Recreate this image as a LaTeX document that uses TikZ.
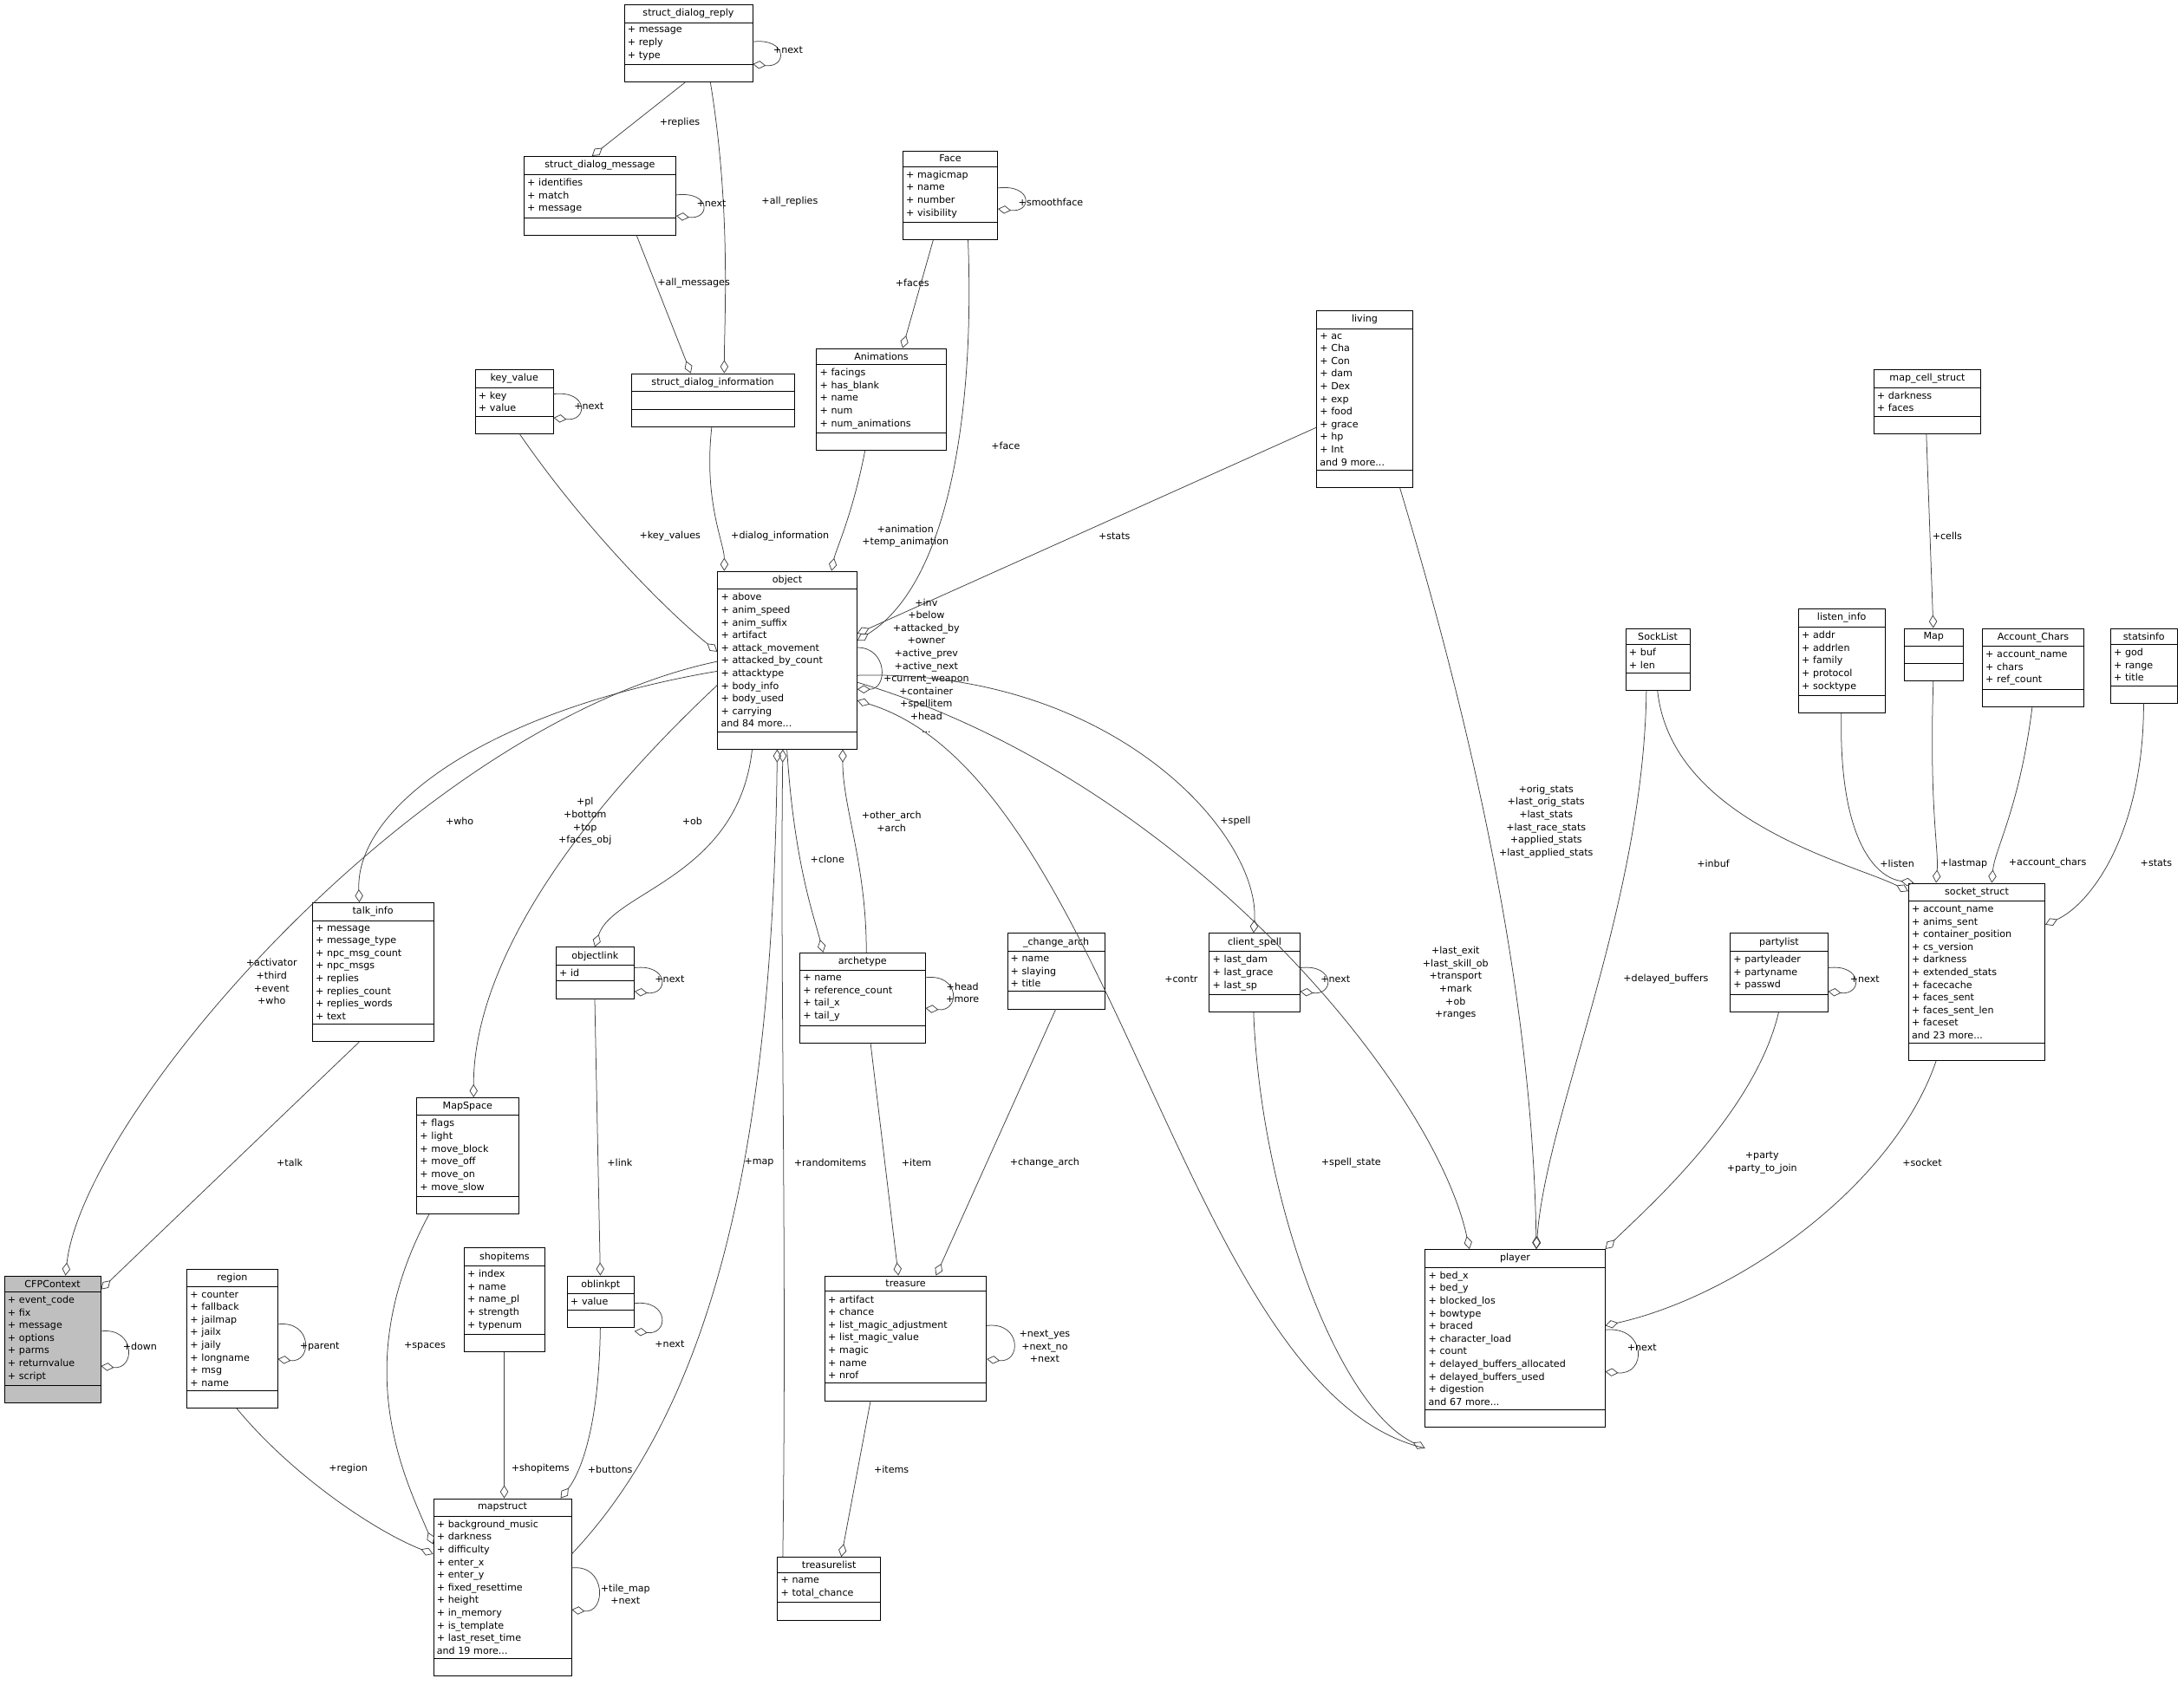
\documentclass[tikz,border=0pt]{standalone}
\usepackage{fontspec}
\setmainfont{DejaVu Sans}
\usetikzlibrary{arrows.meta}
\usetikzlibrary{shapes.multipart}
\definecolor{edgegray}{HTML}{404040}
\newcommand\cfont{\fontsize{5.9}{7.76}\selectfont}
\tikzset{cls/.style={rectangle split,rectangle split parts=3,draw=black,fill=white,anchor=north west,inner xsep=2pt,inner ysep=2.4pt,font=\cfont}}
\tikzset{agg/.style={draw=edgegray,line width=0.4pt,-{Diamond[open,length=8pt,width=5pt]}}}
\tikzset{lbl/.style={font=\cfont,align=center,inner sep=0pt,text=black}}
% class box: name, x, y, width, title, members, extra style
\newcommand\cls[7]{%
 \pgfmathsetmacro\clsw{#4*0.03*28.4527-4}%
 \node[cls,text width=\clsw pt,#7] (#1) at (#2,#3) {\centering #5\par\nodepart{two}\raggedright #6\par\nodepart{three}\vphantom{Ag}};}

\begin{document}
\begin{tikzpicture}[x=0.03cm,y=-0.03cm]
\useasboundingbox (0,0) rectangle (1568,1219);

\cls{reply}{448}{3}{92}{struct\_dialog\_reply}{+ message\\+ reply\\+ type}{}
\cls{dmsg}{376}{112}{109}{struct\_dialog\_message}{+ identifies\\+ match\\+ message}{}
\cls{face}{648}{108}{68}{Face}{+ magicmap\\+ name\\+ number\\+ visibility}{}
\cls{dinfo}{453}{268}{117}{struct\_dialog\_information}{\vphantom{Ag}}{}
\cls{keyval}{341}{265}{56}{key\_value}{+ key\\+ value}{}
\cls{anim}{586}{250}{93}{Animations}{+ facings\\+ has\_blank\\+ name\\+ num\\+ num\_animations}{}
\cls{living}{945}{223}{69}{living}{+ ac\\+ Cha\\+ Con\\+ dam\\+ Dex\\+ exp\\+ food\\+ grace\\+ hp\\+ Int\\and 9 more...}{}
\cls{mapcell}{1345}{265}{77}{map\_cell\_struct}{+ darkness\\+ faces}{}
\cls{object}{515}{410}{100}{object}{+ above\\+ anim\_speed\\+ anim\_suffix\\+ artifact\\+ attack\_movement\\+ attacked\_by\_count\\+ attacktype\\+ body\_info\\+ body\_used\\+ carrying\\and 84 more...}{}
\cls{socklist}{1167}{451}{46}{SockList}{+ buf\\+ len}{}
\cls{listen}{1291}{437}{62}{listen\_info}{+ addr\\+ addrlen\\+ family\\+ protocol\\+ socktype}{}
\cls{map}{1367}{451}{42}{Map}{\vphantom{Ag}}{}
\cls{acct}{1423}{451}{73}{Account\_Chars}{+ account\_name\\+ chars\\+ ref\_count}{}
\cls{statsinfo}{1515}{451}{48}{statsinfo}{+ god\\+ range\\+ title}{}
\cls{talk}{224}{648}{87}{talk\_info}{+ message\\+ message\_type\\+ npc\_msg\_count\\+ npc\_msgs\\+ replies\\+ replies\_count\\+ replies\_words\\+ text}{}
\cls{objlink}{399}{680}{56}{objectlink}{+ id}{}
\cls{arch}{574}{684}{90}{archetype}{+ name\\+ reference\_count\\+ tail\_x\\+ tail\_y}{}
\cls{chg}{723}{670}{70}{\_change\_arch}{+ name\\+ slaying\\+ title}{}
\cls{cspell}{868}{670}{65}{client\_spell}{+ last\_dam\\+ last\_grace\\+ last\_sp}{}
\cls{party}{1242}{670}{70}{partylist}{+ partyleader\\+ partyname\\+ passwd}{}
\cls{sock}{1370}{634}{98}{socket\_struct}{+ account\_name\\+ anims\_sent\\+ container\_position\\+ cs\_version\\+ darkness\\+ extended\_stats\\+ facecache\\+ faces\_sent\\+ faces\_sent\_len\\+ faceset\\and 23 more...}{}
\cls{mapspace}{299}{788}{73}{MapSpace}{+ flags\\+ light\\+ move\_block\\+ move\_off\\+ move\_on\\+ move\_slow}{}
\cls{cfp}{3}{916}{69}{CFPContext}{+ event\_code\\+ fix\\+ message\\+ options\\+ parms\\+ returnvalue\\+ script}{fill=black!25}
\cls{region}{134}{911}{65}{region}{+ counter\\+ fallback\\+ jailmap\\+ jailx\\+ jaily\\+ longname\\+ msg\\+ name}{}
\cls{shop}{333}{896}{58}{shopitems}{+ index\\+ name\\+ name\_pl\\+ strength\\+ typenum}{}
\cls{oblink}{407}{916}{48}{oblinkpt}{+ value}{}
\cls{treasure}{592}{916}{116}{treasure}{+ artifact\\+ chance\\+ list\_magic\_adjustment\\+ list\_magic\_value\\+ magic\\+ name\\+ nrof}{}
\cls{player}{1023}{897}{129}{player}{+ bed\_x\\+ bed\_y\\+ blocked\_los\\+ bowtype\\+ braced\\+ character\_load\\+ count\\+ delayed\_buffers\_allocated\\+ delayed\_buffers\_used\\+ digestion\\and 67 more...}{}
\cls{mapstruct}{311}{1076}{99}{mapstruct}{+ background\_music\\+ darkness\\+ difficulty\\+ enter\_x\\+ enter\_y\\+ fixed\_resettime\\+ height\\+ in\_memory\\+ is\_template\\+ last\_reset\_time\\and 19 more...}{}
\cls{tlist}{558}{1118}{74}{treasurelist}{+ name\\+ total\_chance}{}

% dialog structures
\draw[agg] ([shift={(0,27)}]reply.north east) .. controls +(25,-3) and +(25,3) .. ([shift={(0,43)}]reply.north east) node[lbl,anchor=west] at (555,36) {+next};
\draw[agg] ([shift={(44,0)}]reply.south west) -- ([shift={(49,0)}]dmsg.north west) node[lbl] at (488,88) {+replies};
\draw[agg] ([shift={(62,0)}]reply.south west) .. controls (525,150) and (520,230) .. ([shift={(67,0)}]dinfo.north west) node[lbl] at (567,145) {+all\_replies};
\draw[agg] ([shift={(81,0)}]dmsg.south west) -- ([shift={(43,0)}]dinfo.north west) node[lbl] at (498,203) {+all\_messages};
\draw[agg] ([shift={(0,28)}]dmsg.north east) .. controls +(25,-3) and +(25,3) .. ([shift={(0,43)}]dmsg.north east) node[lbl,anchor=west] at (500,146) {+next};
\draw[agg] ([shift={(0,27)}]face.north east) .. controls +(25,-3) and +(25,3) .. ([shift={(0,42)}]face.north east) node[lbl,anchor=west] at (731,145) {+smoothface};
\draw[agg] ([shift={(22,0)}]face.south west) -- ([shift={(62,0)}]anim.north west) node[lbl] at (655,203) {+faces};
\draw[agg] ([shift={(47,0)}]face.south west) .. controls (700,300) and (680,420) .. ([shift={(0,50)}]object.north east) node[lbl] at (722,320) {+face};
\draw[agg] ([shift={(0,18)}]keyval.north east) .. controls +(25,-3) and +(25,3) .. ([shift={(0,35)}]keyval.north east) node[lbl,anchor=west] at (412,292) {+next};
\draw[agg] ([shift={(32,0)}]keyval.south west) .. controls (420,380) and (480,440) .. ([shift={(0,58)}]object.north west) node[lbl] at (481,385) {+key\_values};
\draw[agg] ([shift={(58,0)}]dinfo.south west) .. controls (505,360) and (520,390) .. ([shift={(5,0)}]object.north west) node[lbl] at (560,385) {+dialog\_information};
\draw[agg] ([shift={(35,0)}]anim.south west) .. controls (612,370) and (600,395) .. ([shift={(82,0)}]object.north west) node[lbl] at (650,385) {+animation\\+temp\_animation};
\draw[agg] ([shift={(0,84)}]living.north west) -- ([shift={(0,45)}]object.north east) node[lbl] at (800,385) {+stats};
\draw[agg] ([shift={(0,55)}]object.north east) .. controls +(22,0) and +(22,0) .. ([shift={(0,85)}]object.north east) node[lbl] at (665,478) {+inv\\+below\\+attacked\_by\\+owner\\+active\_prev\\+active\_next\\+current\_weapon\\+container\\+spellitem\\+head\\...};
\draw[agg] ([shift={(60,0)}]living.south west) .. controls (1050,500) and (1100,700) .. ([shift={(80,0)}]player.north west) node[lbl] at (1110,590) {+orig\_stats\\+last\_orig\_stats\\+last\_stats\\+last\_race\_stats\\+applied\_stats\\+last\_applied\_stats};
\draw[agg] ([shift={(38,0)}]mapcell.south west) -- ([shift={(21,0)}]map.north west) node[lbl] at (1398,385) {+cells};
% object and player
\draw[agg] ([shift={(0,80)}]object.north east) .. controls (850,560) and (1030,780) .. ([shift={(32,0)}]player.north west) node[lbl] at (1045,706) {+last\_exit\\+last\_skill\_ob\\+transport\\+mark\\+ob\\+ranges};
\draw[agg] ([shift={(0,143)}]player.north west) .. controls (850,1000) and (800,560) .. ([shift={(0,93)}]object.north east) node[lbl] at (848,703) {+contr};
\draw[agg] ([shift={(0,75)}]object.north east) .. controls (800,480) and (905,600) .. ([shift={(32,0)}]cspell.north west) node[lbl] at (887,590) {+spell};
\draw[agg] ([shift={(0,25)}]cspell.north east) .. controls +(25,-3) and +(25,3) .. ([shift={(0,42)}]cspell.north east) node[lbl,anchor=west] at (948,703) {+next};
\draw[agg] ([shift={(32,0)}]cspell.south west) .. controls (905,860) and (960,1010) .. ([shift={(0,143)}]player.north west) node[lbl] at (970,835) {+spell\_state};
\draw[agg] ([shift={(23,0)}]socklist.south west) .. controls (1200,590) and (1330,620) .. ([shift={(0,6)}]sock.north west) node[lbl] at (1230,620) {+inbuf};
\draw[agg] ([shift={(15,0)}]socklist.south west) .. controls (1180,650) and (1110,800) .. ([shift={(80,0)}]player.north west) node[lbl] at (1196,703) {+delayed\_buffers};
\draw[agg] ([shift={(31,0)}]listen.south west) .. controls (1320,600) and (1345,630) .. ([shift={(4,0)}]sock.north west) node[lbl] at (1362,620) {+listen};
\draw[agg] ([shift={(21,0)}]map.south west) .. controls (1385,580) and (1392,610) .. ([shift={(20,0)}]sock.north west) node[lbl] at (1410,620) {+lastmap};
\draw[agg] ([shift={(36,0)}]acct.south west) .. controls (1450,580) and (1432,610) .. ([shift={(60,0)}]sock.north west) node[lbl] at (1470,620) {+account\_chars};
\draw[agg] ([shift={(24,0)}]statsinfo.south west) .. controls (1539,600) and (1500,650) .. ([shift={(0,30)}]sock.north east) node[lbl] at (1548,620) {+stats};
\draw[agg] ([shift={(0,25)}]party.north east) .. controls +(25,-3) and +(25,3) .. ([shift={(0,42)}]party.north east) node[lbl,anchor=west] at (1328,703) {+next};
\draw[agg] ([shift={(35,0)}]party.south west) .. controls (1260,800) and (1180,870) .. (player.north east) node[lbl] at (1265,835) {+party\\+party\_to\_join};
\draw[agg] ([shift={(20,0)}]sock.south west) .. controls (1360,850) and (1250,930) .. ([shift={(0,55)}]player.north east) node[lbl] at (1380,835) {+socket};
\draw[agg] ([shift={(0,58)}]player.north east) .. controls +(30,-3) and +(30,3) .. ([shift={(0,88)}]player.north east) node[lbl,anchor=west] at (1168,968) {+next};
% left side
\draw[agg] ([shift={(0,65)}]object.north west) .. controls (300,520) and (60,800) .. ([shift={(44,0)}]cfp.north west) node[lbl] at (195,705) {+activator\\+third\\+event\\+who};
\draw[agg] ([shift={(0,72)}]object.north west) .. controls (350,510) and (255,580) .. ([shift={(34,0)}]talk.north west) node[lbl] at (330,590) {+who};
\draw[agg] ([shift={(34,0)}]talk.south west) -- ([shift={(0,10)}]cfp.north east) node[lbl] at (208,835) {+talk};
\draw[agg] ([shift={(0,40)}]cfp.north east) .. controls +(25,-3) and +(25,3) .. ([shift={(0,65)}]cfp.north east) node[lbl,anchor=west] at (88,967) {+down};
\draw[agg] ([shift={(0,82)}]object.north west) .. controls (400,600) and (340,700) .. ([shift={(41,0)}]mapspace.north west) node[lbl] at (420,590) {+pl\\+bottom\\+top\\+faces\_obj};
\draw[agg] ([shift={(25,0)}]object.south west) .. controls (530,630) and (440,640) .. ([shift={(28,0)}]objlink.north west) node[lbl] at (497,590) {+ob};
\draw[agg] ([shift={(0,15)}]objlink.north east) .. controls +(25,-3) and +(25,3) .. ([shift={(0,32)}]objlink.north east) node[lbl,anchor=west] at (470,703) {+next};
\draw[agg] ([shift={(28,0)}]objlink.south west) -- ([shift={(24,0)}]oblink.north west) node[lbl] at (445,835) {+link};
\draw[agg] ([shift={(0,20)}]oblink.north east) .. controls +(25,-3) and +(25,3) .. ([shift={(0,40)}]oblink.north east) node[lbl,anchor=west] at (470,965) {+next};
\draw[agg] ([shift={(24,0)}]oblink.south west) .. controls (430,1030) and (415,1060) .. ([shift={(-8,0)}]mapstruct.north east) node[lbl] at (438,1055) {+buttons};
\draw[agg] ([shift={(50,0)}]object.south west) .. controls (570,620) and (585,660) .. ([shift={(17,0)}]arch.north west) node[lbl] at (594,617) {+clone};
\draw[agg] ([shift={(48,0)}]arch.north west) .. controls (622,620) and (605,580) .. ([shift={(90,0)}]object.south west) node[lbl] at (640,590) {+other\_arch\\+arch};
\draw[agg] ([shift={(0,18)}]arch.north east) .. controls +(25,-3) and +(25,3) .. ([shift={(0,40)}]arch.north east) node[lbl,anchor=west] at (679,713) {+head\\+more};
\draw[agg] ([shift={(51,0)}]arch.south west) -- ([shift={(53,0)}]treasure.north west) node[lbl] at (658,835) {+item};
\draw[agg] ([shift={(35,0)}]chg.south west) -- ([shift={(80,0)}]treasure.north west) node[lbl] at (750,835) {+change\_arch};
\draw[agg] ([shift={(0,36)}]treasure.north east) .. controls +(25,-3) and +(25,3) .. ([shift={(0,60)}]treasure.north east) node[lbl] at (750,967) {+next\_yes\\+next\_no\\+next};
\draw[agg] ([shift={(33,0)}]treasure.south west) -- ([shift={(46,0)}]tlist.north west) node[lbl] at (640,1055) {+items};
\draw[agg] ([shift={(4,0)}]tlist.north west) .. controls (565,900) and (560,700) .. ([shift={(47,0)}]object.south west) node[lbl] at (596,835) {+randomitems};
\draw[agg] ([shift={(0,40)}]mapstruct.north east) .. controls (520,1000) and (555,800) .. ([shift={(43,0)}]object.south west) node[lbl] at (545,835) {+map};
\draw[agg] ([shift={(9,0)}]mapspace.south west) .. controls (250,980) and (290,1060) .. ([shift={(0,33)}]mapstruct.north west) node[lbl] at (305,967) {+spaces};
\draw[agg] ([shift={(29,0)}]shop.south west) -- ([shift={(51,0)}]mapstruct.north west) node[lbl] at (388,1055) {+shopitems};
\draw[agg] ([shift={(36,0)}]region.south west) .. controls (210,1060) and (270,1100) .. ([shift={(0,40)}]mapstruct.north west) node[lbl] at (250,1055) {+region};
\draw[agg] ([shift={(0,40)}]region.north east) .. controls +(25,-3) and +(25,3) .. ([shift={(0,65)}]region.north east) node[lbl,anchor=west] at (215,967) {+parent};
\draw[agg] ([shift={(0,50)}]mapstruct.north east) .. controls +(25,-3) and +(25,3) .. ([shift={(0,80)}]mapstruct.north east) node[lbl] at (449,1145) {+tile\_map\\+next};
\end{tikzpicture}
\end{document}
